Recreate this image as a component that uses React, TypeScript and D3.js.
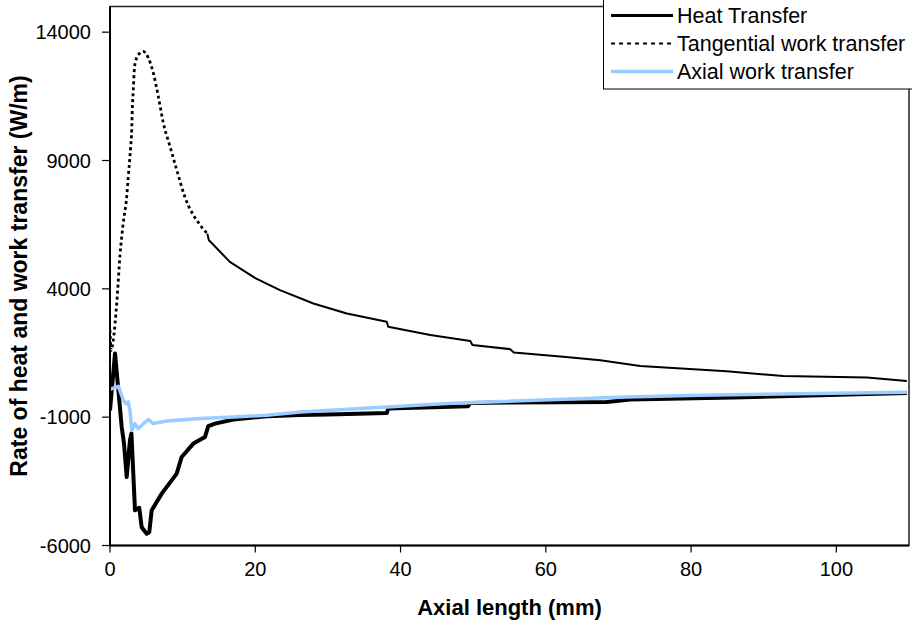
import React from 'react';
import * as d3 from 'd3';

// axis ticks
const xTicks = [0, 20, 40, 60, 80, 100];
const yTicks = [-6000, -1000, 4000, 9000, 14000];

// Heat transfer (W/m) vs axial length (mm)
const heatX = [0, 0.69, 1.15, 1.61, 1.93, 2.3, 2.75, 2.95, 3.44, 4.03, 4.36, 5.05, 5.41, 5.74, 7.12, 9.18, 9.87, 11.47, 13.08, 13.53, 14.45, 17, 21.6, 26.2, 30, 38.1, 38.3, 49.3, 49.6, 55, 68.4, 71.6, 85.8, 109.7];
const heatY = [-730, 1480, 50, -1380, -2030, -3330, -1900, -1630, -4630, -4530, -5290, -5540, -5480, -4630, -3980, -3200, -2550, -2030, -1770, -1350, -1250, -1090, -965, -920, -900, -840, -664, -575, -446, -430, -407, -313, -235, -60];

// Tangential work transfer
const tangX = [0, 0.15, 0.4, 0.96, 1.38, 1.79, 2.3, 2.52, 2.85, 2.99, 3.07, 3.21, 3.35, 3.58, 4.13, 4.58, 5.27, 5.96, 6.65, 7.34, 8.26, 9.18, 10.3, 12.4, 13.4, 13.6, 16.5, 20, 23.4, 28, 32.6, 38.1, 38.3, 44.1, 49.6, 49.9, 55.1, 55.6, 62.4, 67.5, 73, 84.9, 92.7, 104.2, 109.7];
const tangY = [2400, 1600, 1900, 3560, 5320, 6490, 7590, 8380, 9550, 10200, 10980, 11760, 12540, 12930, 13190, 13250, 13000, 12410, 11500, 10460, 9550, 8640, 7590, 6490, 6150, 5900, 5050, 4420, 3950, 3430, 3040, 2720, 2520, 2200, 1970, 1810, 1650, 1520, 1350, 1220, 990, 790, 600, 545, 410];
const tangSolidFrom = 13.4;

// Axial work transfer
const axialX = [0, 1.15, 1.84, 2.2, 2.5, 2.75, 2.99, 3.44, 3.9, 4.36, 5.27, 5.96, 7.8, 12.4, 17, 21.6, 26.2, 46.4, 71.1, 81.2, 109.7];
const axialY = [80, 200, -340, -470, -400, -730, -1510, -1250, -1450, -1320, -1090, -1250, -1150, -1055, -990, -925, -800, -470, -212, -146, -30];

const font = '"Liberation Sans", Arial, sans-serif';

function zip(xs: number[], ys: number[]) {
  return xs.map((d, i) => [d, ys[i]] as [number, number]);
}

export default function App() {
  const width = 912;
  const height = 625;

  const x = d3.scaleLinear().domain([0, 110]).range([110, 909]);
  const y = d3.scaleLinear().domain([-6000, 15000]).range([545.5, 6.5]);

  const line = d3.line<[number, number]>()
    .x(d => x(d[0]))
    .y(d => y(d[1]));
  const smooth = d3.line<[number, number]>()
    .x(d => x(d[0]))
    .y(d => y(d[1]))
    .curve(d3.curveMonotoneX);

  const heat = zip(heatX, heatY);
  const axial = zip(axialX, axialY);
  const tang = zip(tangX, tangY);
  const tangDotted = tang.filter(d => d[0] <= tangSolidFrom);
  const tangSolid = tang.filter(d => d[0] >= tangSolidFrom);

  const [x0, x1] = x.range();
  const [yb, yt] = y.range();

  const legend = [
    { label: 'Heat Transfer', color: '#000', w: 3, dash: undefined as string | undefined },
    { label: 'Tangential work transfer', color: '#000', w: 2, dash: '4,4' },
    { label: 'Axial work transfer', color: '#99ccff', w: 3.5, dash: undefined },
  ];

  return (
    <svg width={width} height={height} style={{ position: 'absolute', left: 0, top: 0, background: '#fff' }}
      fontFamily={font}>
      <defs>
        <clipPath id="plot">
          <rect x={x0} y={yt} width={x1 - x0} height={yb - yt} />
        </clipPath>
      </defs>

      {/* frame */}
      <rect x={x0} y={yt} width={x1 - x0} height={yb - yt} fill="none" stroke="#222" strokeWidth={1.5} />

      <g clipPath="url(#plot)" fill="none" strokeLinejoin="round">
        <path d={line(heat) || ''} stroke="#000" strokeWidth={4} />
        <path d={smooth(tangDotted) || ''} stroke="#000" strokeWidth={2.8} strokeDasharray="3,3" />
        <path d={line(tangSolid) || ''} stroke="#000" strokeWidth={2} />
        <path d={line(axial) || ''} stroke="#99ccff" strokeWidth={3.5} />
      </g>

      {/* axes */}
      <line x1={x0} x2={x0} y1={yt} y2={yb} stroke="#000" strokeWidth={2} />
      <line x1={x0 - 1} x2={x1} y1={yb} y2={yb} stroke="#000" strokeWidth={2} />

      {yTicks.map(t => (
        <g key={t}>
          <line x1={x0 - 8} x2={x0} y1={y(t)} y2={y(t)} stroke="#000" strokeWidth={1.2} />
          <text x={x0 - 19} y={y(t)} textAnchor="end" dominantBaseline="central" fontSize={20}>{t}</text>
        </g>
      ))}
      {xTicks.map(t => (
        <g key={t}>
          <line x1={x(t)} x2={x(t)} y1={yb} y2={yb + 7} stroke="#000" strokeWidth={1.2} />
          <text x={x(t)} y={576} textAnchor="middle" fontSize={20}>{t}</text>
        </g>
      ))}

      <text x={(x0 + x1) / 2} y={615} textAnchor="middle" fontSize={22} fontWeight="bold">Axial length (mm)</text>
      <text transform={`translate(27,${(yt + yb) / 2}) rotate(-90)`} textAnchor="middle" fontSize={23} fontWeight="bold">
        Rate of heat and work transfer (W/m)
      </text>

      {/* legend */}
      <rect x={603.5} y={-2} width={320} height={91} fill="#fff" stroke="#000" strokeWidth={1} />
      {legend.map((d, i) => {
        const ly = 15.5 + i * 28;
        return (
          <g key={d.label}>
            <line x1={611} x2={673} y1={ly} y2={ly} stroke={d.color} strokeWidth={d.w} strokeDasharray={d.dash} />
            <text x={677} y={ly} dominantBaseline="central" fontSize={21.5}>{d.label}</text>
          </g>
        );
      })}
    </svg>
  );
}
